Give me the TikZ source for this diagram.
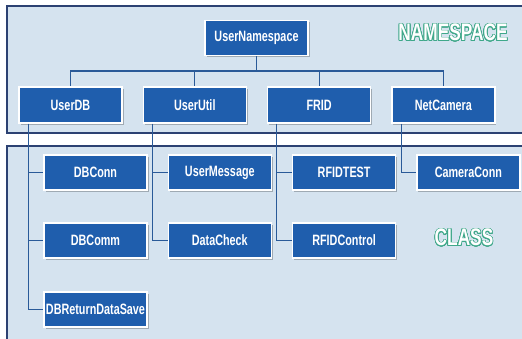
\documentclass[tikz,border=0pt]{standalone}
\usepackage{fontspec}
\usepackage{tikz}
\usepackage{contour}
\usetikzlibrary{positioning,shadows}
\newfontfamily\boxfont{Liberation Sans Bold}[FakeStretch=0.72]
\definecolor{panelfill}{HTML}{D5E3EF}
\definecolor{paneledge}{HTML}{2C4172}
\definecolor{boxblue}{HTML}{1F5EAD}
\definecolor{linkblue}{HTML}{2A5A98}
\definecolor{tagteal}{HTML}{3FA88A}
\contourlength{0.7pt}
\contournumber{24}

\begin{document}
\begin{tikzpicture}[x=1pt, y=-1pt,
    panel/.style={draw=paneledge, line width=1.2pt},
    classbox/.style={rectangle, fill=boxblue, draw=white, line width=1.5pt,
      minimum width=103pt, minimum height=35pt, inner sep=0pt,
      text=white, font=\boxfont\fontsize{15}{16}\selectfont,
      drop shadow={shadow xshift=1.5pt, shadow yshift=-1.5pt, fill=black, opacity=0.25}},
    link/.style={draw=linkblue, line width=1.2pt},
    tag/.style={font=\boxfont\fontsize{24}{25}\selectfont}]
    \useasboundingbox (0,0) rectangle (522,338);
    % Panels
    \fill[panelfill] (7,6) rectangle (530,133);
    \fill[panelfill] (7,146) rectangle (530,340);
    \draw[panel] (530,6) -- (7,6) -- (7,133) -- (530,133);
    \draw[panel] (530,146) -- (7,146) -- (7,340);
    \node[tag] (nstag) at (453,33) {\contour{tagteal}{\color{white}NAMESPACE}};
    \node[tag] (cltag) at (464,238) {\contour{tagteal}{\color{white}CLASS}};
    % Namespaces
    \def\dx{124.3}
    \node[classbox] (root) at (256.5,38) {UserNamespace};
    \foreach \nm/\lbl [count=\i] in {db/UserDB, util/UserUtil, frid/FRID, cam/NetCamera}
      \node[classbox, minimum height=36pt] (\nm) at ({70.5+\dx*(\i-1)},105) {\lbl};
    % Classes
    \node[classbox] (dbconn) at (95.5,172.5) {DBConn};
    \node[classbox] (dbcomm) at (95.5,240.5) {DBComm};
    \node[classbox] (dbsave) at (95.5,309.5) {DBReturnDataSave};
    \node[classbox] (usermsg) at (95.5+\dx,172.5) {UserMessage};
    \node[classbox] (datachk) at (95.5+\dx,240.5) {DataCheck};
    \node[classbox] (rfidtest) at (95.5+2*\dx,172.5) {RFIDTEST};
    \node[classbox] (rfidctl) at (95.5+2*\dx,240.5) {RFIDControl};
    \node[classbox] (camconn) at (95.5+3*\dx,172.5) {CameraConn};
    % Tree links
    \coordinate (bus) at (256.5,71);
    \draw[link] (root.south) -- (bus);
    \foreach \nm in {db,util,frid,cam}
      \draw[link] (bus) -| (\nm.north);
    \foreach \nm/\kid in {db/dbconn, db/dbcomm, db/dbsave, util/usermsg, util/datachk,
        frid/rfidtest, frid/rfidctl, cam/camconn}
      \draw[link] ([xshift=10pt]\nm.south west) |- (\kid.west);
  \end{tikzpicture}
\end{document}
